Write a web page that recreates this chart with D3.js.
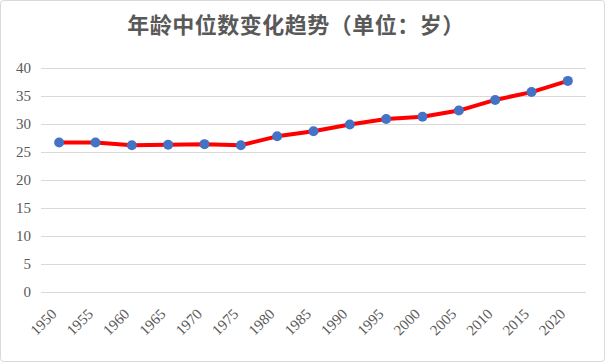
<!DOCTYPE html>
<html>
<head>
<meta charset="utf-8">
<script src="https://cdn.jsdelivr.net/npm/d3@7/dist/d3.min.js"></script>
<style>
  html, body { margin: 0; padding: 0; background: #fff; }
  svg { display: block; }
  .serif text { font-family: "Liberation Serif", "DejaVu Serif", serif; }
</style>
</head>
<body>
<svg id="chart" width="605" height="362"></svg>
<script>
const title = "年龄中位数变化趋势（单位：岁）";
const years = ["1950", "1955", "1960", "1965", "1970", "1975", "1980", "1985",
  "1990", "1995", "2000", "2005", "2010", "2015", "2020"];
const medianAge = [26.7, 26.7, 26.2, 26.3, 26.4, 26.2, 27.8, 28.7,
  29.9, 30.9, 31.3, 32.4, 34.3, 35.7, 37.7];
const yTicks = [0, 5, 10, 15, 20, 25, 30, 35, 40];

const width = 605, height = 362;
const margin = { top: 68, right: 19, bottom: 70, left: 41 };

const svg = d3.select("#chart");

// cadre
svg.append("rect")
  .attr("x", 0.5).attr("y", 0.5)
  .attr("width", width - 1).attr("height", height - 1)
  .attr("rx", 3)
  .attr("fill", "#fff")
  .attr("stroke", "#d9d9d9");

const x = d3.scalePoint()
  .domain(years)
  .range([margin.left, width - margin.right])
  .padding(0.5);

const y = d3.scaleLinear()
  .domain([0, 40])
  .range([height - margin.bottom, margin.top]);

// titre
svg.append("text")
  .attr("x", 296)
  .attr("y", 33)
  .attr("text-anchor", "middle")
  .style("font-family", "'Noto Sans CJK SC', sans-serif")
  .style("font-weight", "bold")
  .style("font-size", "22px")
  .style("letter-spacing", "0.5px")
  .attr("fill", "#595959")
  .text(title);

// axe y + grille
const yAxis = svg.append("g")
  .attr("class", "serif")
  .attr("transform", `translate(${margin.left},0)`)
  .call(d3.axisLeft(y).tickValues(yTicks)
    .tickSize(-(width - margin.left - margin.right))
    .tickPadding(10));
yAxis.attr("font-family", null);
yAxis.select(".domain").remove();
yAxis.selectAll(".tick line").attr("stroke", "#d9d9d9");
yAxis.selectAll(".tick text")
  .style("font-size", "15px")
  .attr("fill", "#595959");

// axe x
const xAxis = svg.append("g")
  .attr("class", "serif")
  .attr("transform", `translate(0,${height - margin.bottom})`)
  .call(d3.axisBottom(x).tickSize(0).tickPadding(0));
xAxis.attr("font-family", null);
xAxis.select(".domain").remove();
xAxis.selectAll(".tick text")
  .style("font-size", "15px")
  .attr("fill", "#595959")
  .attr("text-anchor", "end")
  .attr("dy", "0")
  .attr("y", 0)
  .attr("transform", "translate(-2,23) rotate(-45)");

// ligne
const pts = years.map((yr, i) => ({ year: yr, v: medianAge[i] }));

svg.append("path")
  .datum(pts)
  .attr("fill", "none")
  .attr("stroke", "#ff0000")
  .attr("stroke-width", 4)
  .attr("stroke-linejoin", "round")
  .attr("d", d3.line().x(d => x(d.year)).y(d => y(d.v)));

svg.selectAll("circle.pt")
  .data(pts)
  .join("circle")
  .attr("class", "pt")
  .attr("cx", d => x(d.year))
  .attr("cy", d => y(d.v))
  .attr("r", 5)
  .attr("fill", "#4472c4");
</script>
</body>
</html>
